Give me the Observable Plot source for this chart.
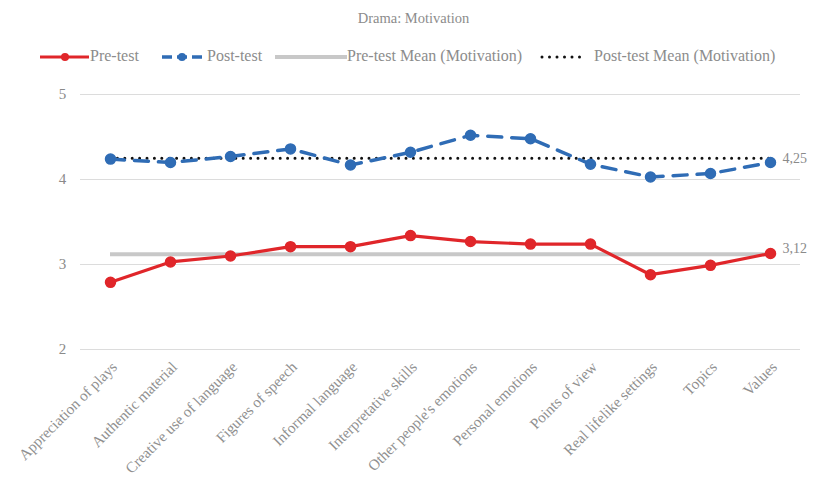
<!DOCTYPE html>
<html>
<head>
<meta charset="utf-8">
<script src="https://cdn.jsdelivr.net/npm/d3@7"></script>
<script src="https://cdn.jsdelivr.net/npm/@observablehq/plot@0.6"></script>
<style>
  html, body { margin: 0; padding: 0; background: #fff; }
  body { width: 819px; height: 482px; overflow: hidden; font-family: "Liberation Serif", "Times New Roman", serif; color: #8a8a8a; }
  #title { height: 30px; line-height: 36px; text-align: center; font-size: 14.5px; color: #8c8c8c; padding-left: 8px; }
  #legend { height: 45px; position: relative; font-size: 16px; color: #8c8c8c; }
  #legend .sw { position: absolute; top: 21px; }
  #legend .lb { position: absolute; top: 17px; white-space: nowrap; }
  #legend svg { display: block; }
</style>
</head>
<body>
<div id="title">Drama: Motivation</div>
<div id="legend"></div>
<div id="chart"></div>
<script>
// Motivation items (x categories)
const items = [
  "Appreciation of plays", "Authentic material", "Creative use of language",
  "Figures of speech", "Informal language", "Interpretative skills",
  "Other people's emotions", "Personal emotions", "Points of view",
  "Real lifelike settings", "Topics", "Values"
];
// Item scores before and after the drama sessions
const preTest  = [2.79, 3.03, 3.10, 3.21, 3.21, 3.34, 3.27, 3.24, 3.24, 2.88, 2.99, 3.13];
const postTest = [4.24, 4.20, 4.27, 4.36, 4.17, 4.32, 4.52, 4.48, 4.18, 4.03, 4.07, 4.20];
// Overall means
const preMean = 3.12;
const postMean = 4.25;
const meanLabels = ["3,12", "4,25"];
const yTicks = [2, 3, 4, 5];

const red = "#e0262a";
const blue = "#2f6cb5";
const grey = "#c8c8c8";

const pre = items.map((k, i) => ({item: k, value: preTest[i]}));
const post = items.map((k, i) => ({item: k, value: postTest[i]}));
const means = [
  {series: "pre", value: preMean, label: meanLabels[0]},
  {series: "post", value: postMean, label: meanLabels[1]}
];
const first = items[0], last = items[items.length - 1];

// Legend: swatch position, swatch width, label position
const legendItems = [
  {sx: 40, w: 49, lx: 90, label: "Pre-test",
   draw: `<line x1="0" y1="6" x2="49" y2="6" stroke="${red}" stroke-width="3"/><circle cx="25" cy="6" r="4" fill="${red}"/>`},
  {sx: 162, w: 40, lx: 207, label: "Post-test",
   draw: `<line x1="0" y1="6" x2="40" y2="6" stroke="${blue}" stroke-width="3.5" stroke-dasharray="10,5"/><circle cx="20" cy="6" r="4" fill="${blue}"/>`},
  {sx: 275, w: 72, lx: 347, label: "Pre-test Mean (Motivation)",
   draw: `<line x1="0" y1="6" x2="72" y2="6" stroke="${grey}" stroke-width="4"/>`},
  {sx: 540, w: 44, lx: 594, label: "Post-test Mean (Motivation)",
   draw: `<line x1="2" y1="6" x2="42" y2="6" stroke="#111" stroke-width="3" stroke-linecap="round" stroke-dasharray="0,7.5"/>`}
];
const legend = document.getElementById("legend");
for (const li of legendItems) {
  const s = document.createElement("div");
  s.className = "sw";
  s.style.left = li.sx + "px";
  s.innerHTML = `<svg width="${li.w}" height="12">${li.draw}</svg>`;
  legend.appendChild(s);
  const l = document.createElement("div");
  l.className = "lb";
  l.style.left = li.lx + "px";
  l.textContent = li.label;
  legend.appendChild(l);
}

const chart = Plot.plot({
  width: 819,
  height: 407,
  marginTop: 19,
  marginBottom: 133,
  marginLeft: 80,
  marginRight: 19,
  style: {fontFamily: "'Liberation Serif', 'Times New Roman', serif", color: "#8a8a8a", background: "#fff"},
  x: {type: "point", domain: items, padding: 0.5, axis: null},
  y: {domain: [2, 5], ticks: yTicks, axis: null},
  marks: [
    Plot.ruleY(yTicks, {stroke: "#dcdcdc", strokeWidth: 1.2}),
    Plot.text(yTicks, {x: () => first, y: d => d, text: d => String(d), dx: -48, fontSize: 15, fill: "#8a8a8a", textAnchor: "middle"}),
    // category labels, rotated
    Plot.text(items, {x: d => d, y: () => 2, text: d => d, rotate: -45, textAnchor: "end", dx: 4, dy: 15, fontSize: 15.2, fill: "#8f8f8f"}),
    // mean lines
    Plot.ruleY(means.slice(0, 1), {y: "value", x1: () => first, x2: () => last, stroke: grey, strokeWidth: 4}),
    Plot.ruleY(means.slice(1), {y: "value", x1: () => first, x2: () => last, stroke: "#111", strokeWidth: 3, strokeLinecap: "round", strokeDasharray: "0,7.4"}),
    Plot.text(means.slice(0, 1), {x: () => last, y: "value", text: "label", dx: 12, dy: -6, textAnchor: "start", fontSize: 14, fill: "#8a8a8a"}),
    Plot.text(means.slice(1), {x: () => last, y: "value", text: "label", dx: 12, dy: 0, textAnchor: "start", fontSize: 14, fill: "#8a8a8a"}),
    // pre-test
    Plot.line(pre, {x: "item", y: "value", stroke: red, strokeWidth: 3.2}),
    Plot.dot(pre, {x: "item", y: "value", r: 5, fill: red, stroke: red}),
    // post-test
    Plot.line(post, {x: "item", y: "value", stroke: blue, strokeWidth: 3.5, strokeDasharray: "14,10"}),
    Plot.dot(post, {x: "item", y: "value", r: 5, fill: blue, stroke: blue})
  ]
});
document.getElementById("chart").appendChild(chart);
</script>
</body>
</html>
